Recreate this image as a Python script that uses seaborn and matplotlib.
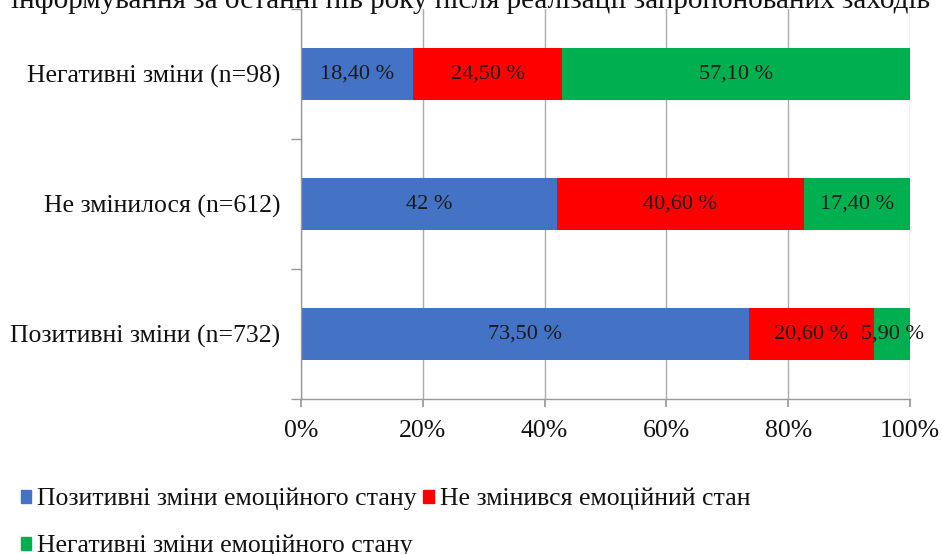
import matplotlib
matplotlib.use("Agg")
import matplotlib.pyplot as plt
import matplotlib.patches as mpatches
from matplotlib.ticker import FixedLocator
import seaborn as sns
import pandas as pd
import numpy as np

categories = ["Негативні зміни (n=98)", "Не змінилося (n=612)", "Позитивні зміни (n=732)"]
series_names = ["Позитивні зміни емоційного стану", "Не змінився емоційний стан", "Негативні зміни емоційного стану"]
positive = [18.4, 42.0, 73.5]
unchanged = [24.5, 40.6, 20.6]
negative = [57.1, 17.4, 5.9]
value_labels = [["18,40 %", "42 %", "73,50 %"],
                ["24,50 %", "40,60 %", "20,60 %"],
                ["57,10 %", "17,40 %", "5,90 %"]]
x_ticks = [0, 20, 40, 60, 80, 100]
x_tick_labels = ["0%", "20%", "40%", "60%", "80%", "100%"]
top_text = "інформування за останні пів року після реалізації запропонованих заходів"

colors = ["#4472C4", "#FF0000", "#00B050"]

sns.set_theme(style="white")
plt.rcParams["font.family"] = ["Liberation Serif", "DejaVu Serif"]

df = pd.DataFrame({"cat": categories, "s1": positive, "s2": unchanged, "s3": negative})
df["c1"] = df["s1"]
df["c2"] = df["s1"] + df["s2"]
df["c3"] = df["c2"] + df["s3"]

fig = plt.figure(figsize=(9.42, 5.54), dpi=100)
ax = fig.add_axes([301/942, 1 - 399/554, 609/942, 390/554])

for col, c in zip(["c3", "c2", "c1"], colors[::-1]):
    sns.barplot(data=df, x=col, y="cat", color=c, width=0.4, orient="h",
                errorbar=None, ax=ax, saturation=1, linewidth=0, zorder=2)

# labels centred in segments
series = [df["s1"].values, df["s2"].values, df["s3"].values]
starts = [np.zeros(3), df["c1"].values, df["c2"].values]
for si in range(3):
    for i in range(3):
        ax.text(starts[si][i] + series[si][i] / 2, i, value_labels[si][i],
                ha="center", va="center", fontsize=16, color="#1a1a1a", zorder=3)

ax.set_xlim(0, 100)
ax.set_ylim(2.5, -0.5)
ax.set_xlabel("")
ax.set_ylabel("")
ax.set_xticks(x_ticks)
ax.set_xticklabels(x_tick_labels, fontsize=18.5)
ax.tick_params(axis="y", which="major", length=0, pad=15, labelsize=18.5, labelcolor="#111111")
ax.tick_params(axis="x", which="major", length=6, direction="out", color="#999999",
               pad=9, labelcolor="#111111", bottom=True)
ax.yaxis.set_minor_locator(FixedLocator([-0.5, 0.5, 1.5, 2.5]))
ax.tick_params(axis="y", which="minor", length=7, direction="out", color="#999999", left=True)
ax.grid(axis="x", color="#ababab", linewidth=1.0)
ax.set_axisbelow(True)
for s in ["top", "right"]:
    ax.spines[s].set_visible(False)
for s in ["left", "bottom"]:
    ax.spines[s].set_color("#999999")
    ax.spines[s].set_linewidth(1.0)

fig.text(0.5, 1 - 8/554, top_text, ha="center", va="baseline", fontsize=21, color="#111111")

handles = [mpatches.Patch(color=colors[0], label=series_names[0]),
           mpatches.Patch(color=colors[2], label=series_names[2]),
           mpatches.Patch(color=colors[1], label=series_names[1])]
fig.legend(handles=handles, loc="upper left", bbox_to_anchor=(0.022, 1 - 488/554),
           ncol=2, frameon=False, fontsize=18.5, handlelength=0.4, handleheight=0.4,
           handletextpad=0.25, columnspacing=0.25, labelspacing=0.95, borderpad=0,
           borderaxespad=0, labelcolor="#111111")

fig.savefig("out.png", dpi=100)
